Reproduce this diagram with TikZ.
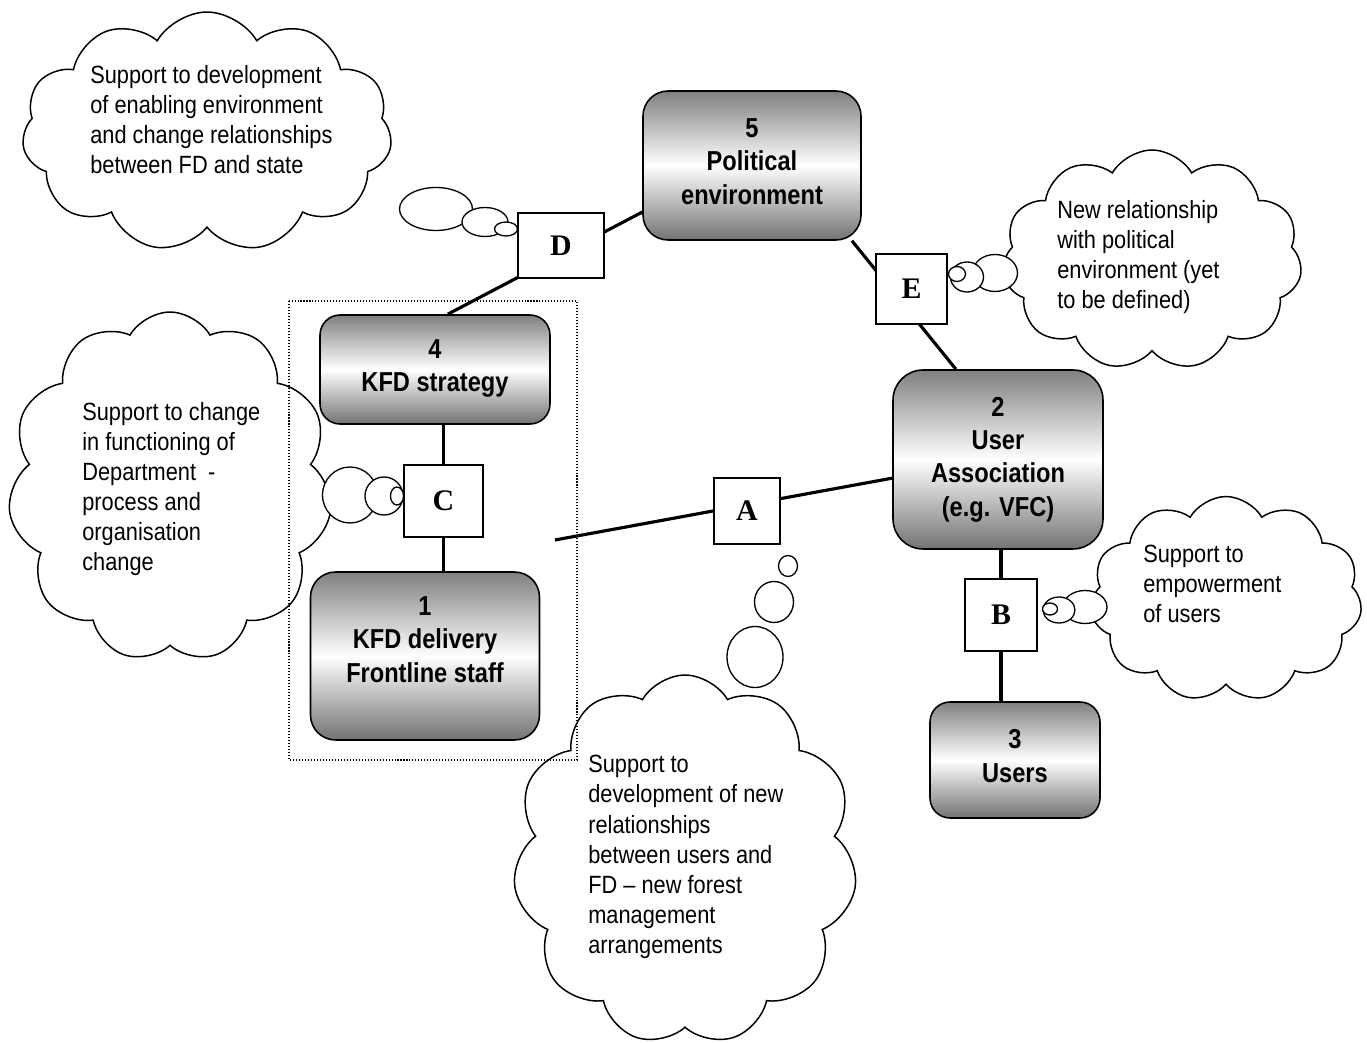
\documentclass[tikz,border=0pt]{standalone}
\usepackage{fontspec}
\setmainfont{Liberation Sans}[FakeStretch=0.873]
\newfontfamily\boxfont{Liberation Sans}[FakeStretch=0.862]
\newfontfamily\letterfont{Liberation Serif}
\usetikzlibrary{shapes.symbols,shapes.geometric,backgrounds}

\begin{document}
\begin{tikzpicture}[x=0.02cm, y=-0.02cm,
    stage/.style={draw, line width=0.9pt, rounded corners=0.5cm,
        top color=black!50, bottom color=black!55, middle color=white,
        align=center, inner sep=0pt,
        font=\boxfont\bfseries\fontsize{15.6}{19}\selectfont},
    letterbox/.style={draw, fill=white, line width=0.7pt, inner sep=0pt,
        font=\letterfont\bfseries\fontsize{17}{20}\selectfont},
    thought/.style={cloud, draw, fill=white, line width=0.85pt,
        cloud puffs=11, cloud puff arc=120, cloud ignores aspect, inner sep=0pt},
    bubble/.style={ellipse, draw, fill=white, line width=0.75pt, inner sep=0pt},
    note/.style={align=left, inner sep=0pt, anchor=base west,
        font=\fontsize{14.2}{17.1}\selectfont},
    link/.style={line width=1.8pt}]

    \useasboundingbox (0,0) rectangle (1367,1043);

    % Clouds
    \node[thought, minimum width=7.4cm, minimum height=4.8cm] (cloudD) at (207,132) {};
    \node[thought, minimum width=6.0cm, minimum height=4.4cm] (cloudE) at (1152,260) {};
    \node[thought, minimum width=6.48cm, minimum height=7.0cm] (cloudC) at (170,487) {};
    \node[thought, minimum width=6.88cm, minimum height=7.4cm] (cloudA) at (685,860) {};
    \node[thought, minimum width=5.44cm, minimum height=4.1cm] (cloudB) at (1226,599) {};

    % Bubbles
    \node[bubble, minimum width=1.46cm, minimum height=0.86cm] (bubD1) at (436,209) {};
    \node[bubble, minimum width=0.92cm, minimum height=0.58cm] (bubD2) at (485,222) {};
    \node[bubble, minimum width=0.46cm, minimum height=0.28cm] (bubD3) at (506,229) {};
    \node[bubble, minimum width=0.90cm, minimum height=0.74cm] (bubE1) at (995,273) {};
    \node[bubble, minimum width=0.66cm, minimum height=0.60cm] (bubE2) at (967,277) {};
    \node[bubble, minimum width=0.34cm, minimum height=0.30cm] (bubE3) at (957,274) {};
    \node[bubble, minimum width=1.10cm, minimum height=1.12cm] (bubC1) at (350,495) {};
    \node[bubble, minimum width=0.76cm, minimum height=0.76cm] (bubC2) at (384,496) {};
    \node[bubble, minimum width=0.26cm, minimum height=0.36cm] (bubC3) at (397,496) {};
    \node[bubble, minimum width=1.12cm, minimum height=1.22cm] (bubA1) at (755,657) {};
    \node[bubble, minimum width=0.78cm, minimum height=0.82cm] (bubA2) at (774,602) {};
    \node[bubble, minimum width=0.38cm, minimum height=0.42cm] (bubA3) at (788,566) {};
    \node[bubble, minimum width=0.88cm, minimum height=0.66cm] (bubB1) at (1085,607) {};
    \node[bubble, minimum width=0.64cm, minimum height=0.52cm] (bubB2) at (1059,610) {};
    \node[bubble, minimum width=0.30cm, minimum height=0.24cm] (bubB3) at (1050,609) {};

    % Cloud texts (placed at the baseline of the last line)
    \node[note] (noteD) at (90,173.6) {Support to development\\of enabling environment\\and change relationships\\between FD and state};
    \node[note] (noteE) at (1057,308.6) {New relationship\\with political\\environment (yet\\to be defined)};
    \node[note] (noteC) at (82,571) {Support to change\\in functioning of\\Department \ -\\process and\\organisation\\change};
    \node[note] (noteA) at (588,953.2) {Support to\\development of new\\relationships\\between users and\\FD – new forest\\management\\arrangements};
    \node[note] (noteB) at (1143,622.4) {Support to\\empowerment\\of users};

    % Department frame
    \draw[line width=0.6pt, dash pattern=on 0.6pt off 1.1pt] (289,301) rectangle (577,760);

    % Stakeholders
    \node[stage, minimum width=4.36cm, minimum height=2.98cm] (b5) at (752,165.5) {5\\Political\\environment\\[-0.5cm]\mbox{}};
    \node[stage, minimum width=4.60cm, minimum height=2.18cm, rounded corners=0.4cm] (b4) at (435,369.5) {4\\KFD strategy\\[-0.5cm]\mbox{}};
    \node[stage, minimum width=4.58cm, minimum height=3.36cm] (b1) at (425,656) {1\\KFD delivery\\Frontline staff\\\mbox{}};
    \node[stage, minimum width=4.20cm, minimum height=3.58cm, rounded corners=0.6cm] (b2) at (998,459.5) {2\\User\\Association\\(e.g. VFC)};
    \node[stage, minimum width=3.40cm, minimum height=2.32cm, rounded corners=0.4cm] (b3) at (1015,760) {3\\Users\\[-0.5cm]\mbox{}};

    % Relationship boxes
    \node[letterbox, minimum width=1.72cm, minimum height=1.30cm] (D) at (561,245.5) {D};
    \node[letterbox, minimum width=1.42cm, minimum height=1.40cm] (E) at (911.5,289) {E};
    \node[letterbox, minimum width=1.58cm, minimum height=1.44cm] (C) at (443.5,501) {C};
    \node[letterbox, minimum width=1.32cm, minimum height=1.32cm] (A) at (747,511) {A};
    \node[letterbox, minimum width=1.44cm, minimum height=1.44cm] (B) at (1001,615) {B};
    \coordinate (aEnd) at (555,540);

    % Links
    \begin{scope}[on background layer]
        \draw[link] (b4.77.6) -- (b5.203.5);
        \draw[link] (b5.-37.5) -- (b2.115.3);
        \draw[link] (b4.south -| C) -- (b1.north -| C);
        \draw[link] (aEnd) -- (b2.190);
        \draw[link] (b2.south -| B) -- (b3.north -| B);
    \end{scope}
\end{tikzpicture}
\end{document}
